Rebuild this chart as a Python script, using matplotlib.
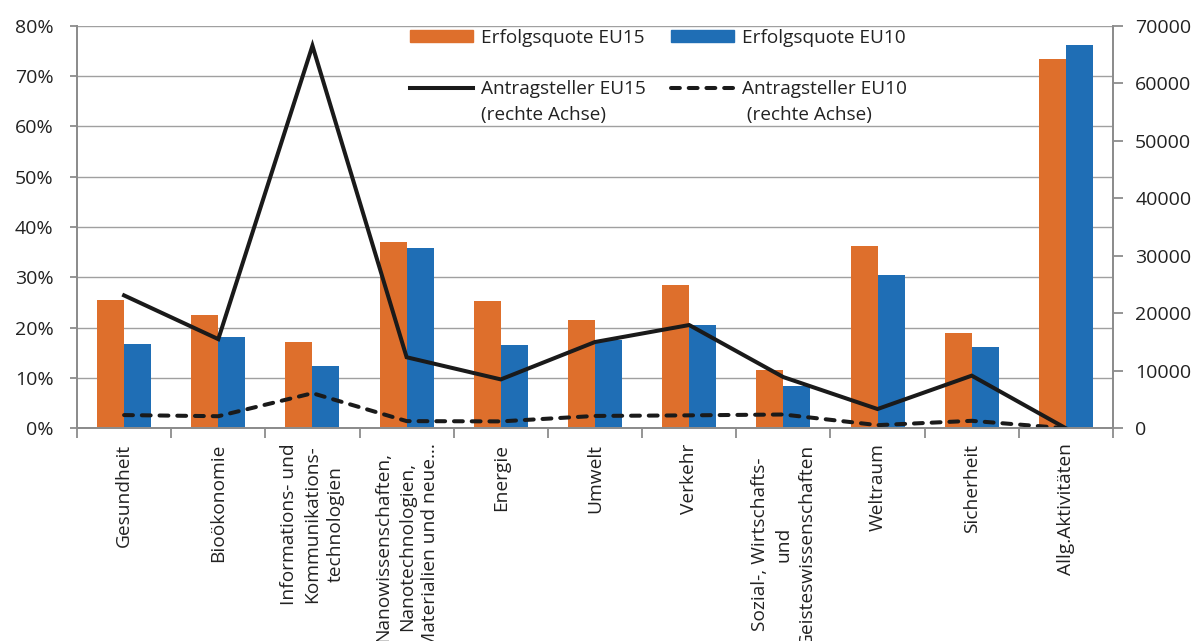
import numpy as np
import matplotlib
matplotlib.use("Agg")
import matplotlib.pyplot as plt
from matplotlib.lines import Line2D
from matplotlib.patches import Patch
from matplotlib.ticker import FuncFormatter

plt.rcParams['font.family'] = ['Open Sans', 'DejaVu Sans']

categories = ["Gesundheit", "Bioökonomie",
              "Informations- und\nKommunikations-\ntechnologien",
              "Nanowissenschaften,\nNanotechnologien,\nMaterialien und neue…",
              "Energie", "Umwelt", "Verkehr",
              "Sozial-, Wirtschafts-\nund\nGeisteswissenschaften",
              "Weltraum", "Sicherheit", "Allg.Aktivitäten"]
quote_eu15 = [0.255, 0.225, 0.172, 0.370, 0.252, 0.215, 0.284, 0.115, 0.362, 0.189, 0.734]
quote_eu10 = [0.168, 0.181, 0.124, 0.359, 0.165, 0.176, 0.205, 0.085, 0.305, 0.161, 0.762]
antrag_eu15 = [23100, 15500, 66500, 12350, 8500, 15000, 17950, 8900, 3350, 9150, 0]
antrag_eu10 = [2300, 2100, 6100, 1250, 1200, 2150, 2250, 2400, 550, 1300, 0]

orange = '#DE6F2C'
blue = '#1F6EB5'
grey = '#8C8C8C'
txt = '#222222'

fig = plt.figure(figsize=(11.95, 6.41), dpi=100)
ax = fig.add_axes([77/1195, 1-428.3/641, (1113-77)/1195, (428.3-25.6)/641])
ax2 = ax.twinx()

x = np.arange(len(categories))
w = 0.287
ax.bar(x - w/2, quote_eu15, width=w, color=orange, zorder=2)
ax.bar(x + w/2, quote_eu10, width=w, color=blue, zorder=2)

ax2.plot(x, antrag_eu15, color='#1a1a1a', lw=2.9, solid_joinstyle='miter')
ax2.plot(x, antrag_eu10, color='#1a1a1a', lw=2.9, linestyle=(0, (2.2, 2.2)),
         dash_capstyle='round')

ax.set_xlim(-0.5, len(categories) - 0.5)
ax.set_ylim(0, 0.8)
ax2.set_ylim(0, 70000)
ax.set_yticks(np.arange(0, 0.81, 0.1))
ax.yaxis.set_major_formatter(FuncFormatter(lambda v, p: '%d%%' % round(v * 100)))
ax2.set_yticks(np.arange(0, 70001, 10000))

ax.set_xticks(x)
ax.set_xticklabels(categories, rotation=90, ha='center', va='top',
                   multialignment='center', fontsize=13.8, color=txt,
                   linespacing=1.4)
ax.set_xticks(np.arange(-0.5, len(categories), 1), minor=True)
ax.tick_params(axis='x', which='major', length=0, pad=11)
ax.tick_params(axis='x', which='minor', length=7, color=grey, width=1.3)
ax.tick_params(axis='y', length=5, color=grey, width=1.3, labelsize=14,
               labelcolor=txt, pad=12)
ax2.tick_params(axis='y', length=7, color=grey, width=1.3, labelsize=14,
                labelcolor=txt, pad=9)

ax.grid(axis='y', color='#A0A0A0', lw=1.0)
ax.set_axisbelow(True)
for a in (ax, ax2):
    a.spines['top'].set_visible(False)
    for s in ('left', 'right', 'bottom'):
        a.spines[s].set_color(grey)
        a.spines[s].set_linewidth(1.3)

blank = Line2D([], [], color='none')
handles = [Patch(color=orange), blank,
           Line2D([], [], color='#1a1a1a', lw=2.9), blank,
           Patch(color=blue), blank,
           Line2D([], [], color='#1a1a1a', lw=2.9, linestyle=(0, (2.2, 2.2)),
                  dash_capstyle='round'), blank]
labels = ['Erfolgsquote EU15', ' ', 'Antragsteller EU15', '(rechte Achse)',
          'Erfolgsquote EU10', ' ', 'Antragsteller EU10', ' (rechte Achse)']
leg = ax2.legend(handles, labels, ncol=2, frameon=False, fontsize=13.7,
                 loc='upper left', bbox_to_anchor=(410/1195, 1-29/641),
                 bbox_transform=fig.transFigure, borderpad=0, borderaxespad=0,
                 handlelength=3.3, handleheight=0.62, handletextpad=0.42,
                 columnspacing=1.35, labelspacing=0.4)
for t in leg.get_texts():
    t.set_color(txt)

fig.savefig('out.png', dpi=100)
